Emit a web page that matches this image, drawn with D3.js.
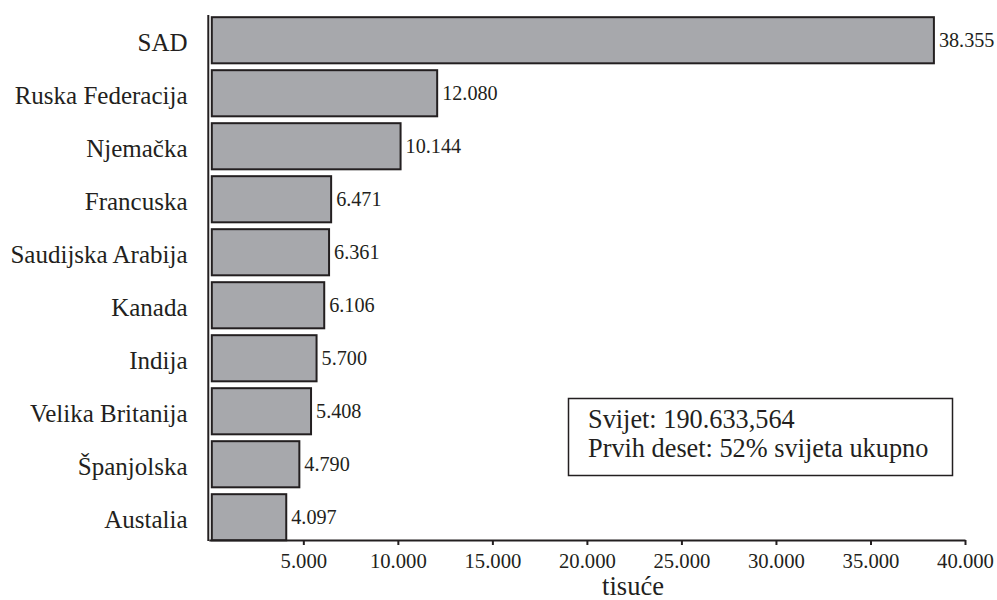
<!DOCTYPE html>
<html>
<head>
<meta charset="utf-8">
<script src="https://cdn.jsdelivr.net/npm/d3@7"></script>
<style>
  html, body { margin: 0; padding: 0; background: #fff; }
  text { font-family: "Times New Roman"; }
</style>
</head>
<body>
<svg id="chart" width="997" height="600" font-family="Times New Roman"></svg>
<script>
const categories = ["SAD", "Ruska Federacija", "Njemačka", "Francuska", "Saudijska Arabija",
                    "Kanada", "Indija", "Velika Britanija", "Španjolska", "Australia"];
const categoryLabels = ["SAD", "Ruska Federacija", "Njemačka", "Francuska", "Saudijska Arabija",
                        "Kanada", "Indija", "Velika Britanija", "Španjolska", "Austalia"];
const values = [38355, 12080, 10144, 6471, 6361, 6106, 5700, 5408, 4790, 4097];
const valueLabels = ["38.355", "12.080", "10.144", "6.471", "6.361", "6.106", "5.700", "5.408", "4.790", "4.097"];
const tickValues = [5000, 10000, 15000, 20000, 25000, 30000, 35000, 40000];
const tickLabels = ["5.000", "10.000", "15.000", "20.000", "25.000", "30.000", "35.000", "40.000"];
const axisTitle = "tisuće";
const noteLines = ["Svijet: 190.633,564", "Prvih deset: 52% svijeta ukupno"];

const ink = "#231f20";
const FONT = "Times New Roman";
const svg = d3.select("#chart");

const x = d3.scaleLinear().domain([0, 40000]).range([208.8, 965]);
const y = d3.scaleBand().domain(categories).range([13.75, 543.75])
  .paddingInner(0.13).paddingOuter(0.065);

const axisY = 540;

// bars
svg.append("g").selectAll("rect").data(categories).join("rect")
  .attr("x", x(0) + 3)
  .attr("y", d => y(d))
  .attr("width", (d, i) => x(values[i]) - x(0) - 3)
  .attr("height", y.bandwidth())
  .attr("fill", "#a7a8ac")
  .attr("stroke", ink)
  .attr("stroke-width", 2);

// value labels
svg.append("g").selectAll("text").data(categories).join("text")
  .attr("x", (d, i) => x(values[i]) + 5)
  .attr("y", d => y(d) + y.bandwidth() / 2 + 7)
  .attr("font-size", 20.2)
  .attr("font-family", FONT)
  .attr("fill", ink)
  .text((d, i) => valueLabels[i]);

// category labels
svg.append("g").selectAll("text").data(categories).join("text")
  .attr("x", 187.5)
  .attr("y", d => y(d) + y.bandwidth() / 2 + 10.5)
  .attr("text-anchor", "end")
  .attr("font-size", 25)
  .attr("font-family", FONT)
  .attr("fill", ink)
  .text((d, i) => categoryLabels[i]);

// x axis
const xAxis = d3.axisBottom(x)
  .tickValues(tickValues)
  .tickFormat((d, i) => tickLabels[i])
  .tickSize(5)
  .tickSizeOuter(0)
  .tickPadding(8);
const gx = svg.append("g").attr("transform", `translate(0,${axisY})`).call(xAxis);
gx.attr("font-family", FONT).attr("font-size", 20.7);
gx.select(".domain").attr("stroke", ink).attr("stroke-width", 2);
gx.selectAll(".tick line").attr("stroke", ink).attr("stroke-width", 2);
gx.selectAll(".tick text").attr("fill", ink);

// y axis line
svg.append("line")
  .attr("x1", x(0) - 0.5).attr("x2", x(0) - 0.5)
  .attr("y1", 15).attr("y2", axisY + 1)
  .attr("stroke", ink).attr("stroke-width", 2);

// axis title
svg.append("text")
  .attr("x", 633)
  .attr("y", 595)
  .attr("text-anchor", "middle")
  .attr("font-size", 26.5)
  .attr("font-family", FONT)
  .attr("fill", ink)
  .text(axisTitle);

// note box
const box = svg.append("g");
box.append("rect")
  .attr("x", 568.5).attr("y", 398.5)
  .attr("width", 384).attr("height", 77)
  .attr("fill", "#fff").attr("stroke", ink).attr("stroke-width", 1.5);
box.selectAll("text").data(noteLines).join("text")
  .attr("x", 588)
  .attr("y", (d, i) => 427.5 + i * 29.5)
  .attr("font-size", 26.3)
  .attr("font-family", FONT)
  .attr("fill", ink)
  .text(d => d);
</script>
</body>
</html>
